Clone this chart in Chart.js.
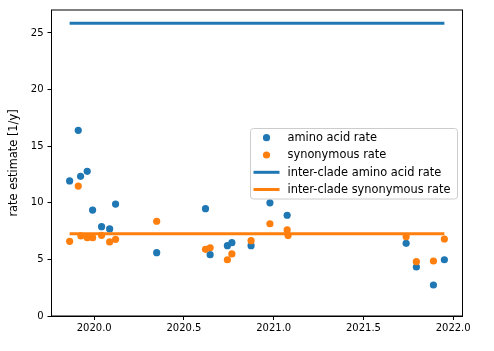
<!DOCTYPE html>
<html>
<head>
<meta charset="utf-8">
<script src="https://cdn.jsdelivr.net/npm/chart.js@4/dist/chart.umd.min.js"></script>
<style>
  html, body { margin: 0; padding: 0; background: #fff; }
  #wrap { position: relative; width: 494px; height: 351px; }
</style>
</head>
<body>
<div id="wrap"><canvas id="c" width="494" height="351"></canvas></div>
<script>
// data
const aaDates = [2019.863, 2019.911, 2019.924, 2019.961, 2019.991, 2020.041, 2020.086, 2020.119,
                 2020.348, 2020.620, 2020.646, 2020.742, 2020.767, 2020.874, 2020.979, 2021.075,
                 2021.738, 2021.795, 2021.890, 2021.951];
const aaRates = [11.93, 16.40, 12.34, 12.78, 9.36, 7.89, 7.69, 9.89,
                 5.59, 9.48, 5.42, 6.21, 6.48, 6.21, 10.00, 8.90,
                 6.42, 4.33, 2.74, 4.97];
const synDates = [2019.863, 2019.911, 2019.926, 2019.961, 2019.991, 2020.041, 2020.086, 2020.119,
                  2020.348, 2020.620, 2020.646, 2020.742, 2020.767, 2020.874, 2020.979, 2021.075,
                  2021.080, 2021.738, 2021.795, 2021.890, 2021.951];
const synRates = [6.60, 11.48, 7.07, 6.92, 6.92, 7.13, 6.54, 6.77,
                  8.37, 5.89, 6.03, 4.97, 5.48, 6.65, 8.15, 7.60,
                  7.10, 7.00, 4.80, 4.86, 6.80];
const interAaRate = 25.86;
const interSynRate = 7.27;
const xTicks = [2020.0, 2020.5, 2021.0, 2021.5, 2022.0];
const yTicks = [0, 5, 10, 15, 20, 25];
const labels = ['amino acid rate', 'synonymous rate', 'inter-clade amino acid rate', 'inter-clade synonymous rate'];

const BLUE = '#1f77b4', ORANGE = '#ff7f0e';
const FONT = { family: 'DejaVu Sans', size: 10 };

const allDates = aaDates.concat(synDates);
const tMin = Math.min(...allDates), tMax = Math.max(...allDates);

const pts = (xs, ys) => xs.map((x, i) => ({ x: x, y: ys[i] }));

// box around plot + matplotlib style legend
const framePlugin = {
  id: 'frame',
  afterDraw(chart) {
    const { ctx, chartArea: a } = chart;
    ctx.save();
    ctx.strokeStyle = '#000';
    ctx.lineWidth = 1;
    ctx.strokeRect(a.left, a.top, a.right - a.left, a.bottom - a.top);

    // legend
    const lx = 250.5, ly = 128.5, lw = 207, lh = 70.5, r = 3;
    ctx.beginPath();
    ctx.roundRect(lx, ly, lw, lh, r);
    ctx.fillStyle = 'rgba(255,255,255,0.8)';
    ctx.fill();
    ctx.strokeStyle = '#cccccc';
    ctx.stroke();
    const rows = [137.7, 155.0, 172.3, 189.5];
    const cols = [BLUE, ORANGE, BLUE, ORANGE];
    ctx.font = '11.4px "DejaVu Sans"';
    ctx.textBaseline = 'middle';
    rows.forEach((y, i) => {
      if (i < 2) {
        ctx.beginPath();
        ctx.arc(266.5, y, 3.6, 0, Math.PI * 2);
        ctx.fillStyle = cols[i];
        ctx.fill();
      } else {
        ctx.beginPath();
        ctx.moveTo(253.5, y);
        ctx.lineTo(279.5, y);
        ctx.strokeStyle = cols[i];
        ctx.lineWidth = 3;
        ctx.stroke();
      }
      ctx.fillStyle = '#000';
      ctx.fillText(labels[i], 287.5, y + 0.5);
    });
    ctx.restore();
  }
};

new Chart(document.getElementById('c'), {
  type: 'scatter',
  data: {
    datasets: [
      { label: labels[0], data: pts(aaDates, aaRates), backgroundColor: BLUE, borderWidth: 0, pointRadius: 3.6, order: 3 },
      { label: labels[1], data: pts(synDates, synRates), backgroundColor: ORANGE, borderWidth: 0, pointRadius: 3.6, order: 2 },
      { type: 'line', label: labels[2], data: [{ x: tMin, y: interAaRate }, { x: tMax, y: interAaRate }],
        borderColor: BLUE, borderWidth: 3, pointRadius: 0, order: 1 },
      { type: 'line', label: labels[3], data: [{ x: tMin, y: interSynRate }, { x: tMax, y: interSynRate }],
        borderColor: ORANGE, borderWidth: 3, pointRadius: 0, order: 0 }
    ]
  },
  options: {
    responsive: false,
    animation: false,
    layout: { padding: { top: 10, right: 31.5, left: 0, bottom: 0 } },
    plugins: { legend: { display: false }, tooltip: { enabled: false } },
    scales: {
      x: {
        type: 'linear',
        min: 2019.762, max: 2022.052,
        afterBuildTicks: s => { s.ticks = xTicks.map(v => ({ value: v })); },
        afterFit: s => { s.height = 35; },
        grid: { drawOnChartArea: false, drawTicks: true, tickLength: 4, color: '#000' },
        border: { color: '#000' },
        ticks: { color: '#000', font: FONT, padding: 2, maxRotation: 0, callback: v => v.toFixed(1) }
      },
      y: {
        min: 0, max: 27.03,
        afterBuildTicks: s => { s.ticks = yTicks.map(v => ({ value: v })); },
        afterFit: s => { s.width = 51.5; },
        grid: { drawOnChartArea: false, drawTicks: true, tickLength: 4, color: '#000' },
        border: { color: '#000' },
        ticks: { color: '#000', font: FONT, padding: 4 },
        title: { display: true, text: 'rate estimate [1/y]', color: '#000',
                 font: { family: 'DejaVu Sans', size: 11.4 }, padding: { top: 7, bottom: 0 } }
      }
    }
  },
  plugins: [framePlugin]
});
</script>
</body>
</html>
